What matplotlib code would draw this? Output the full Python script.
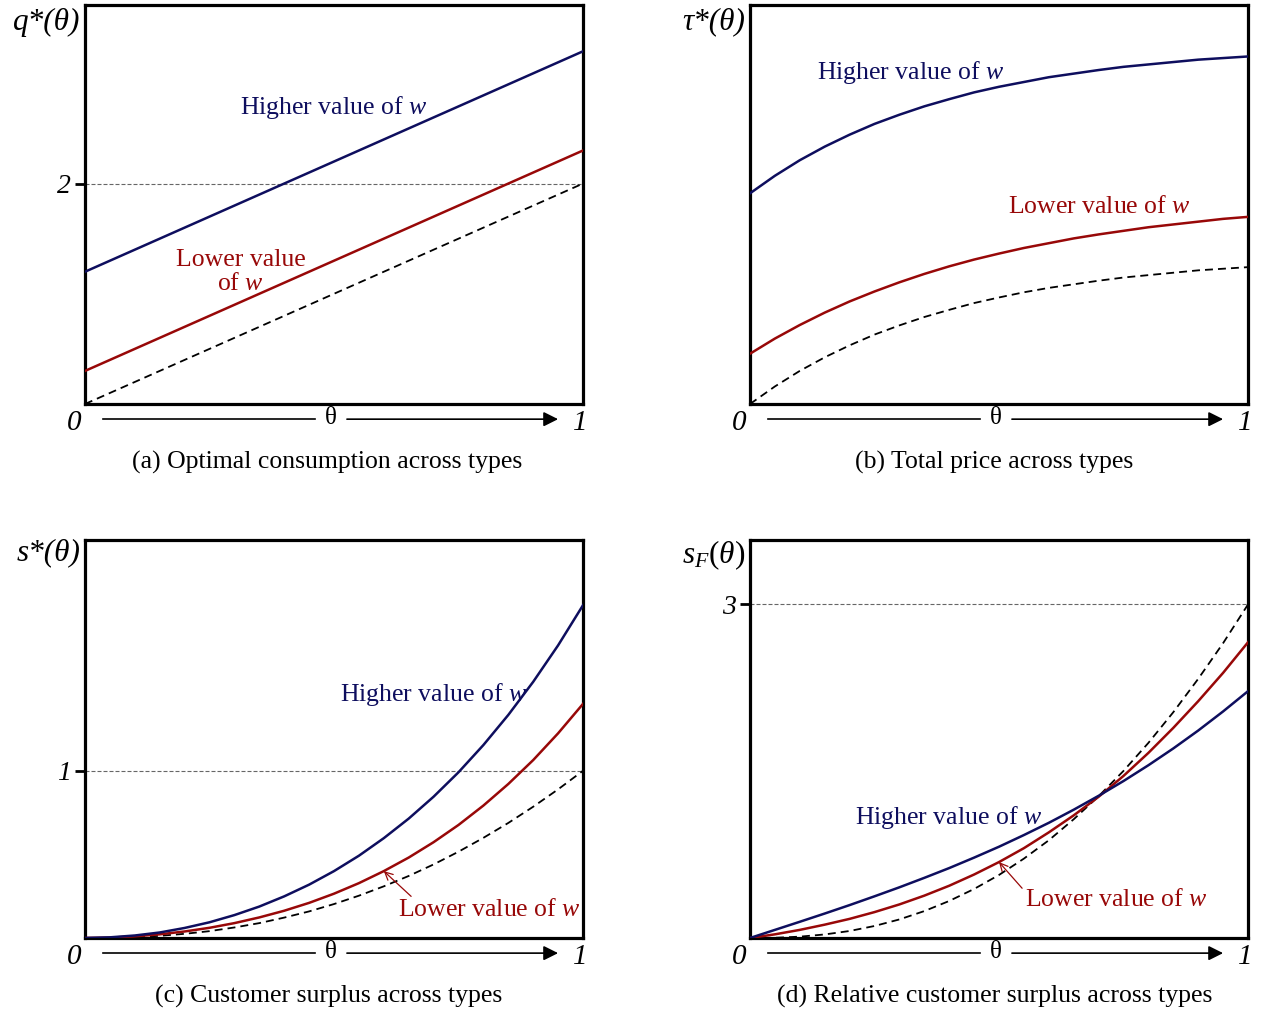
import numpy as np
import matplotlib.pyplot as plt

plt.rcParams['font.family'] = 'Liberation Serif'
plt.rcParams['mathtext.fontset'] = 'custom'
plt.rcParams['mathtext.rm'] = 'Liberation Serif'
plt.rcParams['mathtext.it'] = 'Liberation Serif:italic'

BLUE = '#0e0e5e'
RED = '#980808'

# (a) optimal consumption, straight lines
theta_a = [0.0, 1.0]
q_high = [1.2, 3.2]
q_low = [0.3, 2.3]
q_base = [0.0, 2.0]

theta = [round(0.05 * i, 2) for i in range(21)]

# (b) total price
tau_high = [0.528, 0.572, 0.611, 0.645, 0.675, 0.702, 0.725, 0.746, 0.764, 0.781, 0.795,
            0.807, 0.819, 0.828, 0.837, 0.845, 0.851, 0.857, 0.863, 0.867, 0.871]
tau_low = [0.126, 0.164, 0.198, 0.229, 0.257, 0.282, 0.305, 0.326, 0.345, 0.362, 0.377,
           0.391, 0.403, 0.415, 0.425, 0.434, 0.443, 0.450, 0.457, 0.464, 0.469]
tau_base = [0.0, 0.044, 0.083, 0.117, 0.147, 0.174, 0.197, 0.218, 0.236, 0.253, 0.267,
            0.280, 0.291, 0.300, 0.309, 0.317, 0.323, 0.329, 0.335, 0.339, 0.343]

# (c) customer surplus
s_high = [0.0, 0.004, 0.015, 0.033, 0.060, 0.094, 0.137, 0.188, 0.249, 0.319, 0.400,
          0.492, 0.597, 0.714, 0.845, 0.991, 1.154, 1.334, 1.532, 1.750, 1.990]
s_low = [0.0, 0.002, 0.010, 0.022, 0.039, 0.061, 0.089, 0.123, 0.163, 0.210, 0.265,
         0.328, 0.400, 0.481, 0.573, 0.676, 0.792, 0.921, 1.064, 1.224, 1.400]
s_base = [0.0, 0.001, 0.005, 0.013, 0.025, 0.041, 0.063, 0.089, 0.122, 0.159, 0.203,
          0.253, 0.309, 0.371, 0.440, 0.516, 0.599, 0.688, 0.785, 0.889, 1.000]

# (d) relative customer surplus
sf_high = [0.0, 0.073, 0.146, 0.220, 0.296, 0.375, 0.456, 0.541, 0.629, 0.723, 0.821,
           0.926, 1.036, 1.154, 1.279, 1.412, 1.554, 1.705, 1.866, 2.038, 2.220]
sf_low = [0.0, 0.033, 0.073, 0.120, 0.172, 0.233, 0.302, 0.381, 0.470, 0.571, 0.683,
          0.808, 0.950, 1.103, 1.270, 1.458, 1.665, 1.890, 2.130, 2.385, 2.660]
sf_base = [0.0, 0.002, 0.012, 0.032, 0.063, 0.108, 0.167, 0.242, 0.333, 0.441, 0.567,
           0.714, 0.879, 1.068, 1.275, 1.503, 1.755, 2.031, 2.331, 2.652, 3.000]

captions = ['(a) Optimal consumption across types',
            '(b) Total price across types',
            '(c) Customer surplus across types',
            '(d) Relative customer surplus across types']
ylabels = ['q*(θ)', 'τ*(θ)', 's*(θ)', r'$\mathit{s_F(\theta)}$']

fig = plt.figure(figsize=(12.66, 10.15), dpi=100)
W, H = 1266.0, 1015.0


def make_axes(x0, x1, y0, y1):
    return fig.add_axes([x0 / W, 1 - y1 / H, (x1 - x0) / W, (y1 - y0) / H])


ax_a = make_axes(85, 583, 5, 404)
ax_b = make_axes(750, 1248, 5, 404)
ax_c = make_axes(85, 583, 540, 938)
ax_d = make_axes(750, 1248, 540, 938)


def base_style(ax, ymax, tick, ylab, ylab_y):
    ax.set_xlim(0, 1)
    ax.set_ylim(0, ymax)
    ax.set_xticks([])
    for sp in ax.spines.values():
        sp.set_linewidth(2.3)
    if tick is None:
        ax.set_yticks([])
    else:
        ax.axhline(tick, color='#666666', lw=0.8, ls=(0, (3.6, 1.8)), zorder=1)
        ax.set_yticks([tick])
        ax.set_yticklabels([str(tick)], fontstyle='italic', fontsize=20)
        ax.tick_params(axis='y', length=7, width=2, pad=3)
    ax.text(-0.01, ylab_y, ylab, transform=ax.transAxes, ha='right', va='center',
            fontstyle='italic', fontsize=22.5)
    # theta axis drawn under the box
    yy = -0.038
    ax.plot([0.036, 0.462], [yy, yy], transform=ax.transAxes, clip_on=False,
            color='k', lw=1.2)
    ax.annotate('', xy=(0.95, yy), xytext=(0.526, yy), xycoords='axes fraction',
                arrowprops=dict(arrowstyle='-|>', color='k', lw=1.2,
                                mutation_scale=22, shrinkA=0, shrinkB=0),
                annotation_clip=False)
    ax.text(0.494, yy + 0.003, 'θ', transform=ax.transAxes, ha='center', va='center',
            fontsize=18)
    ax.text(-0.022, yy - 0.01, '0', transform=ax.transAxes, ha='center', va='center',
            fontstyle='italic', fontsize=21)
    ax.text(0.995, yy - 0.01, '1', transform=ax.transAxes, ha='center', va='center',
            fontstyle='italic', fontsize=21)


def draw(ax, x, hi, lo, base):
    ax.plot(x, base, color='k', lw=1.3, ls=(0, (4.4, 2.8)), zorder=2)
    ax.plot(x, lo, color=RED, lw=1.8, zorder=3)
    ax.plot(x, hi, color=BLUE, lw=1.8, zorder=4)


FS = 18.5

# (a)
base_style(ax_a, 3.62, 2, ylabels[0], 0.957)
draw(ax_a, theta_a, q_high, q_low, q_base)
ax_a.text(0.311, 0.744, 'Higher value of $w$', transform=ax_a.transAxes, color=BLUE,
          fontsize=FS, ha='left', va='center')
ax_a.text(0.312, 0.331, 'Lower value\nof $w$', transform=ax_a.transAxes, color=RED,
          fontsize=FS, ha='center', va='center', multialignment='center', linespacing=1.1)

# (b)
base_style(ax_b, 1.0, None, ylabels[1], 0.957)
draw(ax_b, theta, tau_high, tau_low, tau_base)
ax_b.text(0.135, 0.83, 'Higher value of $w$', transform=ax_b.transAxes, color=BLUE,
          fontsize=FS, ha='left', va='center')
ax_b.text(0.518, 0.494, 'Lower value of $w$', transform=ax_b.transAxes, color=RED,
          fontsize=FS, ha='left', va='center')

# (c)
base_style(ax_c, 2.38, 1, ylabels[2], 0.967)
draw(ax_c, theta, s_high, s_low, s_base)
ax_c.text(0.512, 0.613, 'Higher value of $w$', transform=ax_c.transAxes, color=BLUE,
          fontsize=FS, ha='left', va='center')
ax_c.annotate('Lower value of $w$', xy=(theta[12], s_low[12]), xytext=(0.629, 0.07),
              textcoords='axes fraction', color=RED, fontsize=FS, ha='left', va='center',
              arrowprops=dict(arrowstyle='->', color=RED, lw=0.9, relpos=(0.1, 0.9),
                              shrinkA=0, shrinkB=0, mutation_scale=14))

# (d)
base_style(ax_d, 3.58, 3, ylabels[3], 0.962)
draw(ax_d, theta, sf_high, sf_low, sf_base)
ax_d.text(0.211, 0.304, 'Higher value of $w$', transform=ax_d.transAxes, color=BLUE,
          fontsize=FS, ha='left', va='center')
ax_d.annotate('Lower value of $w$', xy=(theta[10], sf_low[10]), xytext=(0.552, 0.095),
              textcoords='axes fraction', color=RED, fontsize=FS, ha='left', va='center',
              arrowprops=dict(arrowstyle='->', color=RED, lw=0.9, relpos=(0.0, 0.9),
                              shrinkA=0, shrinkB=0, mutation_scale=14))

fig.text(327 / W, 1 - 462 / H, captions[0], ha='center', va='center', fontsize=FS)
fig.text(994 / W, 1 - 462 / H, captions[1], ha='center', va='center', fontsize=FS)
fig.text(329 / W, 1 - 996 / H, captions[2], ha='center', va='center', fontsize=FS)
fig.text(995 / W, 1 - 996 / H, captions[3], ha='center', va='center', fontsize=FS)

fig.savefig('out.png', dpi=100)
